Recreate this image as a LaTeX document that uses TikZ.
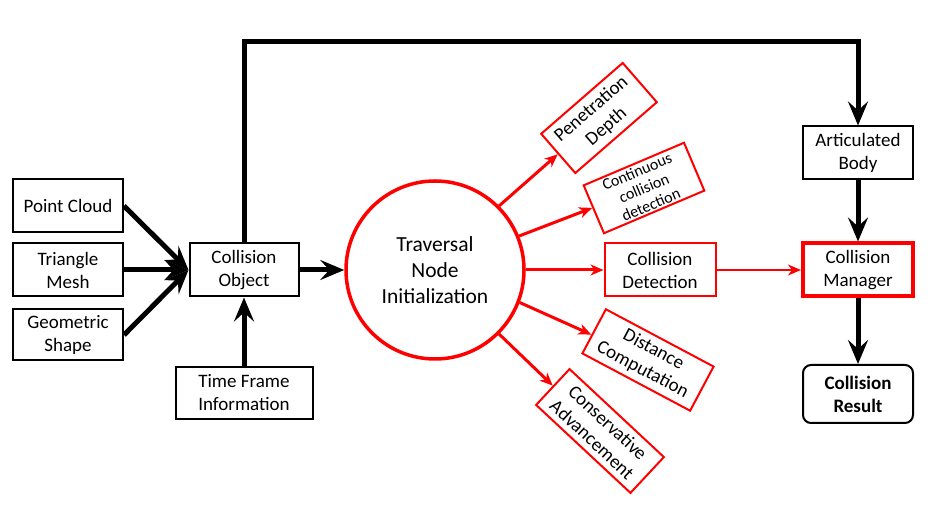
\documentclass[tikz,border=0pt]{standalone}
\usepackage{fontspec}
\setmainfont{Carlito}
\usetikzlibrary{shapes.geometric, arrows.meta}
\tikzstyle{box} = [rectangle, minimum width=110pt, minimum height=53pt, text centered, align=center, draw=black, line width=2pt, inner sep=1pt, font=\fontsize{19}{23}\selectfont]
\tikzstyle{redbox} = [box, draw=red]
\tikzstyle{bigarrow} = [line width=5pt, -{Stealth[length=24pt,width=20pt,inset=9pt]}]
\tikzstyle{redarrow} = [red, line width=3pt, -{Stealth[length=13pt,width=11pt,inset=4pt]}]
\begin{document}
\begin{tikzpicture}[x=1pt,y=1pt]
\useasboundingbox (0,0) rectangle (944,516);

\node[box] (cloud) at (68,310) {Point Cloud};
\node[box] (mesh) at (68,246) {Triangle\\Mesh};
\node[box, minimum height=51pt] (shape) at (68,181) {Geometric\\Shape};
\node[box, minimum width=109pt] (object) at (244,246) {Collision\\Object};
\node[box, minimum width=137pt, minimum height=52pt] (time) at (244,123) {Time Frame\\Information};
\node[circle, draw=red, line width=3.5pt, minimum size=178pt, inner sep=0pt, align=center, font=\fontsize{21.5}{26}\selectfont] (trav) at (435,246) {Traversal\\Node\\Initialization};

\node[redbox, minimum width=111pt] (detect) at (660,246) {Collision\\Detection};
\node[redbox, rotate=41, minimum width=108pt, minimum height=52pt] (pen) at (599,398) {Penetration\\Depth};
\node[redbox, rotate=23, minimum width=109pt, minimum height=52pt, inner sep=0pt, font=\fontsize{16}{18}\selectfont] (ccd) at (644,328) {Continuous\\collision\\detection};
\node[redbox, rotate=-28, minimum width=122pt, minimum height=50pt] (dist) at (648,156) {Distance\\Computation};
\node[redbox, rotate=-43, minimum width=129pt, minimum height=49pt] (cons) at (600,85) {Conservative\\Advancement};

\node[box] (body) at (858,363) {Articulated\\Body};
\node[box, draw=red, line width=4pt] (manager) at (858,246) {Collision\\Manager};
\node[box, rounded corners=8pt, minimum height=58pt, font=\bfseries\fontsize{19}{23}\selectfont] (result) at (858,122) {Collision\\Result};
\coordinate (corner) at (858,474);

% inputs
\draw[bigarrow] (cloud.east) -- (object.west);
\draw[bigarrow] (mesh.east) -- (object.west);
\draw[bigarrow] (shape.east) -- (object.west);
\draw[bigarrow] (time) -- (object);
\draw[bigarrow] (object) -- (trav);
\draw[bigarrow] (object.north) |- (corner) -- (body.north);
\draw[bigarrow] (body) -- (manager);
\draw[bigarrow] (manager) -- (result);

% queries
\draw[redarrow] (trav.45) -- (pen);
\draw[redarrow] (trav.22) -- (ccd);
\draw[redarrow] (trav) -- (detect);
\draw[redarrow] (trav.-21) -- (dist);
\draw[redarrow] (trav.-45) -- (cons);
\draw[redarrow, line width=2pt] (detect) -- (manager);
\end{tikzpicture}
\end{document}
